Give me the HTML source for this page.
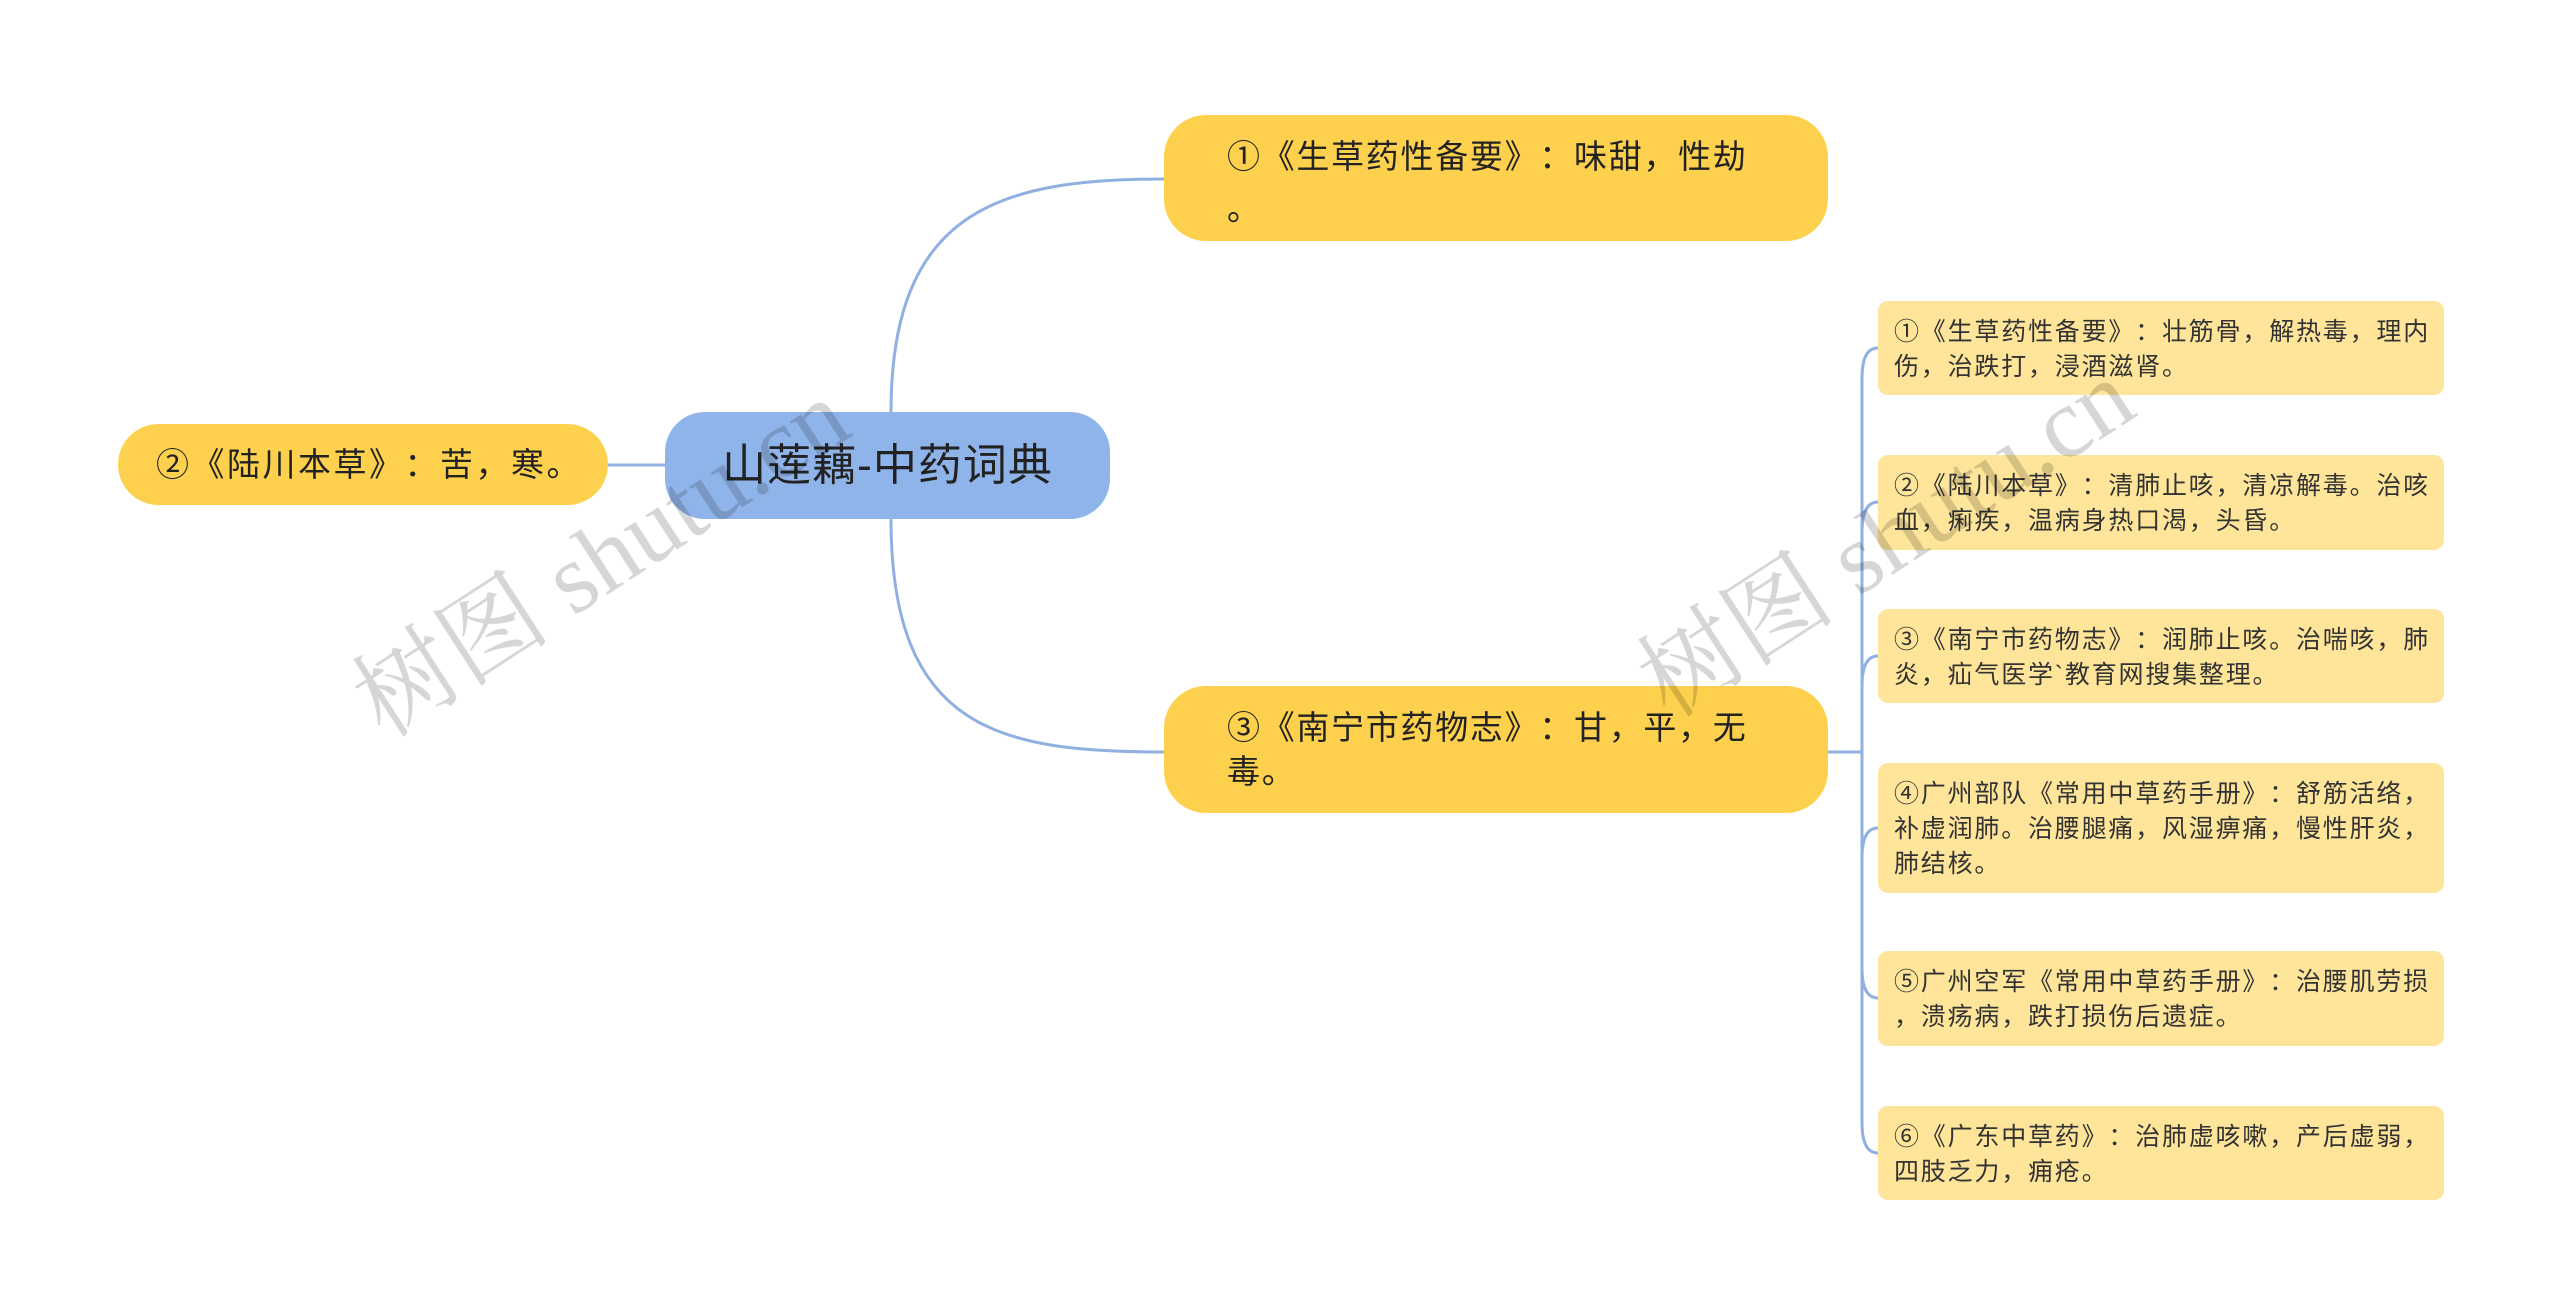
<!DOCTYPE html>
<html><head><meta charset="utf-8"><style>
body{margin:0;width:2560px;height:1316px;background:#fff;position:relative;overflow:hidden;font-family:"Liberation Sans","Noto Sans CJK SC",sans-serif;text-spacing-trim:space-all;font-feature-settings:"chws" 0,"halt" 0;}
.n{position:absolute;box-sizing:border-box;color:#222;}
.y{background:#fdd14d;border-radius:42px;letter-spacing:1.7px;}
.s{background:#fee59a;border-radius:10px;font-size:25px;line-height:35px;padding:14px 16px;color:#333;letter-spacing:1.8px;white-space:nowrap;}
.wm{position:absolute;font-family:"Liberation Serif","Noto Serif CJK SC",serif;font-size:100px;color:rgba(0,0,0,0.16);transform:rotate(-33deg);white-space:nowrap;transform-origin:left bottom;}
</style></head><body>
<svg width="2560" height="1316" style="position:absolute;left:0;top:0">
<g fill="none" stroke="#8fb0e0" stroke-width="3">
<path d="M891,412 C891,210 1000,179 1164,179"/>
<path d="M891,519 C891,730 1000,752 1164,752"/>
<path d="M608,465 L665,465"/>
<path d="M1828,752 L1862,752"/>
<path d="M1862,752 L1862,378 Q1862,348 1878,348"/>
<path d="M1862,752 L1862,532 Q1862,502 1878,502"/>
<path d="M1862,752 L1862,686 Q1862,656 1878,656"/>
<path d="M1862,752 L1862,858 Q1862,828 1878,828"/>
<path d="M1862,752 L1862,968 Q1862,998 1878,998"/>
<path d="M1862,752 L1862,1123 Q1862,1153 1878,1153"/>
</g></svg>
<div class="n" style="left:665px;top:412px;width:445px;height:107px;background:#8fb4ea;border-radius:40px;font-size:44px;line-height:107px;text-align:center;letter-spacing:1px;">山莲藕-中药词典</div>
<div class="n y" style="left:118px;top:424px;width:490px;height:81px;font-size:33px;line-height:81px;padding-left:38px;letter-spacing:2.5px;">②《陆川本草》：苦，寒。</div>
<div class="n y" style="left:1164px;top:115px;width:664px;height:126px;font-size:33px;line-height:52px;padding:16px 40px 0 63px;">①《生草药性备要》：味甜，性劫<br>。</div>
<div class="n y" style="left:1164px;top:686px;width:664px;height:127px;font-size:33px;line-height:44px;padding:20px 40px 0 63px;">③《南宁市药物志》：甘，平，无<br>毒。</div>
<div class="n s" style="left:1878px;top:301px;width:566px;height:94px;">①《生草药性备要》：壮筋骨，解热毒，理内<br>伤，治跌打，浸酒滋肾。</div>
<div class="n s" style="left:1878px;top:455px;width:566px;height:95px;">②《陆川本草》：清肺止咳，清凉解毒。治咳<br>血，痢疾，温病身热口渴，头昏。</div>
<div class="n s" style="left:1878px;top:609px;width:566px;height:94px;">③《南宁市药物志》：润肺止咳。治喘咳，肺<br>炎，疝气医学`教育网搜集整理。</div>
<div class="n s" style="left:1878px;top:763px;width:566px;height:130px;">④广州部队《常用中草药手册》：舒筋活络，<br>补虚润肺。治腰腿痛，风湿痹痛，慢性肝炎，<br>肺结核。</div>
<div class="n s" style="left:1878px;top:951px;width:566px;height:95px;">⑤广州空军《常用中草药手册》：治腰肌劳损<br>，溃疡病，跌打损伤后遗症。</div>
<div class="n s" style="left:1878px;top:1106px;width:566px;height:94px;">⑥《广东中草药》：治肺虚咳嗽，产后虚弱，<br>四肢乏力，痈疮。</div>
<div class="wm" style="left:400px;top:620px;">树图 shutu.cn</div>
<div class="wm" style="left:1685px;top:600px;">树图 shutu.cn</div>
</body></html>
